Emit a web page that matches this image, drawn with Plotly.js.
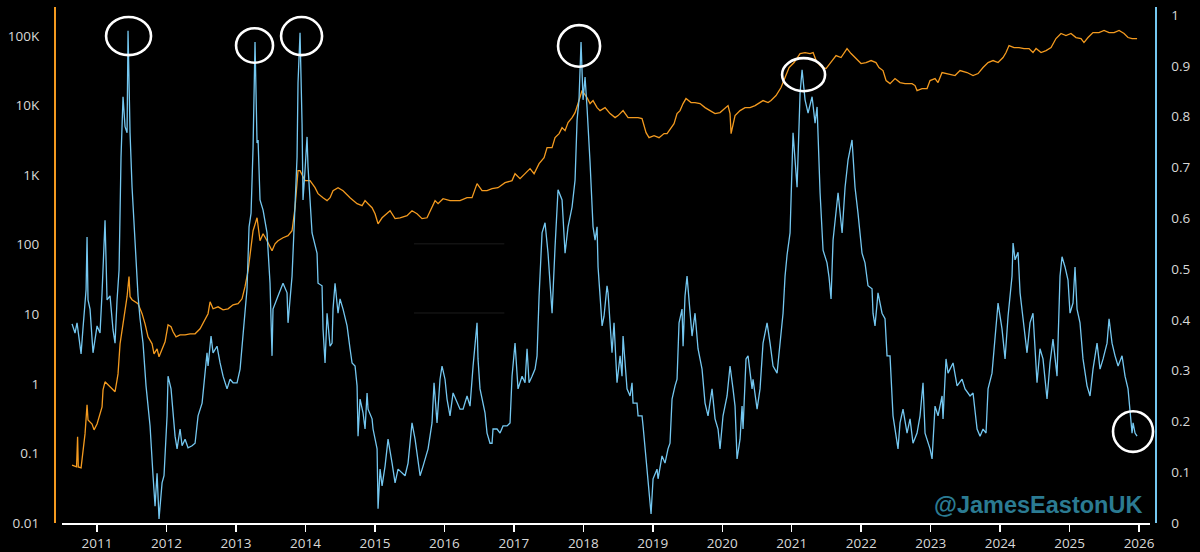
<!DOCTYPE html>
<html>
<head>
<meta charset="utf-8">
<script src="https://cdn.plot.ly/plotly-3.0.1.min.js"></script>
<style>
html,body{margin:0;padding:0;background:#000;}
#chart{width:1200px;height:552px;}
</style>
</head>
<body>
<div id="chart"></div>
<script>
// Oscillator (right axis, 0..1) — decimal years and values
const blueYears = [2010.640,2010.683,2010.712,2010.770,2010.798,2010.842,2010.856,2010.870,2010.899,2010.942,2011.000,2011.043,2011.072,2011.115,2011.144,2011.187,2011.230,2011.259,2011.288,2011.317,2011.345,2011.374,2011.403,2011.432,2011.446,2011.475,2011.504,2011.547,2011.576,2011.590,2011.619,2011.662,2011.705,2011.763,2011.806,2011.835,2011.864,2011.892,2011.936,2011.964,2012.008,2012.022,2012.065,2012.094,2012.123,2012.152,2012.195,2012.224,2012.267,2012.310,2012.368,2012.411,2012.454,2012.512,2012.555,2012.583,2012.598,2012.641,2012.670,2012.727,2012.771,2012.814,2012.871,2012.915,2012.958,2013.015,2013.059,2013.102,2013.159,2013.188,2013.217,2013.246,2013.274,2013.303,2013.318,2013.346,2013.390,2013.447,2013.462,2013.490,2013.519,2013.533,2013.605,2013.677,2013.735,2013.749,2013.807,2013.850,2013.879,2013.893,2013.922,2013.951,2013.965,2013.994,2014.023,2014.037,2014.095,2014.167,2014.181,2014.239,2014.253,2014.282,2014.311,2014.354,2014.383,2014.397,2014.426,2014.469,2014.498,2014.541,2014.599,2014.642,2014.671,2014.714,2014.743,2014.757,2014.786,2014.829,2014.858,2014.887,2014.901,2014.959,2014.973,2015.031,2015.045,2015.074,2015.103,2015.146,2015.189,2015.247,2015.290,2015.333,2015.390,2015.434,2015.477,2015.534,2015.578,2015.606,2015.650,2015.693,2015.765,2015.822,2015.851,2015.894,2015.937,2015.966,2016.009,2016.038,2016.081,2016.125,2016.182,2016.225,2016.269,2016.326,2016.369,2016.398,2016.413,2016.470,2016.484,2016.513,2016.556,2016.585,2016.614,2016.657,2016.686,2016.700,2016.758,2016.801,2016.844,2016.902,2016.945,2016.974,2017.017,2017.060,2017.118,2017.161,2017.190,2017.219,2017.262,2017.305,2017.334,2017.363,2017.406,2017.449,2017.492,2017.550,2017.593,2017.636,2017.694,2017.737,2017.780,2017.838,2017.881,2017.910,2017.938,2017.967,2017.996,2018.025,2018.053,2018.068,2018.097,2018.140,2018.169,2018.198,2018.212,2018.241,2018.270,2018.298,2018.341,2018.356,2018.413,2018.442,2018.485,2018.529,2018.557,2018.572,2018.629,2018.673,2018.701,2018.716,2018.773,2018.788,2018.845,2018.860,2018.917,2018.960,2018.975,2019.004,2019.061,2019.076,2019.133,2019.176,2019.219,2019.248,2019.277,2019.320,2019.349,2019.378,2019.421,2019.436,2019.464,2019.493,2019.507,2019.565,2019.608,2019.651,2019.709,2019.752,2019.795,2019.853,2019.896,2019.939,2019.968,2020.011,2020.069,2020.112,2020.155,2020.184,2020.213,2020.256,2020.285,2020.299,2020.342,2020.371,2020.429,2020.443,2020.501,2020.544,2020.587,2020.645,2020.688,2020.731,2020.789,2020.832,2020.875,2020.904,2020.933,2020.976,2021.019,2021.077,2021.120,2021.149,2021.192,2021.235,2021.293,2021.336,2021.365,2021.408,2021.451,2021.508,2021.537,2021.566,2021.595,2021.667,2021.725,2021.768,2021.811,2021.868,2021.911,2021.954,2022.012,2022.055,2022.084,2022.098,2022.156,2022.170,2022.199,2022.242,2022.300,2022.343,2022.372,2022.415,2022.458,2022.516,2022.530,2022.559,2022.602,2022.660,2022.703,2022.746,2022.804,2022.847,2022.890,2022.919,2022.991,2023.020,2023.063,2023.106,2023.164,2023.178,2023.221,2023.250,2023.322,2023.380,2023.452,2023.495,2023.567,2023.610,2023.668,2023.711,2023.754,2023.797,2023.826,2023.883,2023.927,2023.970,2024.027,2024.071,2024.114,2024.171,2024.186,2024.215,2024.258,2024.287,2024.330,2024.387,2024.430,2024.473,2024.531,2024.574,2024.617,2024.675,2024.718,2024.761,2024.819,2024.862,2024.891,2024.934,2024.977,2025.006,2025.049,2025.078,2025.107,2025.150,2025.193,2025.251,2025.294,2025.337,2025.395,2025.438,2025.482,2025.539,2025.568,2025.611,2025.654,2025.698,2025.755,2025.798,2025.841,2025.870,2025.899,2025.914,2025.942,2025.971];
const blueValues = [0.392,0.374,0.394,0.333,0.384,0.459,0.563,0.439,0.421,0.335,0.388,0.374,0.453,0.596,0.439,0.447,0.380,0.354,0.439,0.498,0.720,0.839,0.780,0.768,0.969,0.768,0.661,0.551,0.504,0.447,0.402,0.354,0.270,0.191,0.093,0.033,0.098,0.008,0.079,0.093,0.211,0.289,0.264,0.217,0.171,0.146,0.185,0.152,0.165,0.148,0.152,0.157,0.211,0.236,0.289,0.335,0.309,0.368,0.335,0.348,0.315,0.289,0.264,0.283,0.276,0.276,0.303,0.368,0.461,0.583,0.610,0.740,0.947,0.748,0.754,0.636,0.616,0.571,0.531,0.472,0.329,0.421,0.447,0.472,0.453,0.394,0.486,0.636,0.720,0.866,0.965,0.787,0.636,0.695,0.760,0.701,0.571,0.531,0.472,0.467,0.382,0.315,0.413,0.348,0.354,0.421,0.472,0.413,0.441,0.421,0.388,0.343,0.315,0.309,0.270,0.171,0.244,0.217,0.185,0.256,0.224,0.205,0.185,0.146,0.028,0.106,0.073,0.112,0.165,0.118,0.079,0.106,0.098,0.093,0.118,0.197,0.165,0.138,0.093,0.112,0.146,0.197,0.276,0.197,0.283,0.309,0.283,0.244,0.211,0.256,0.236,0.224,0.224,0.250,0.230,0.295,0.309,0.394,0.323,0.264,0.236,0.217,0.177,0.157,0.157,0.185,0.185,0.177,0.191,0.191,0.197,0.289,0.354,0.264,0.289,0.276,0.343,0.276,0.289,0.303,0.329,0.447,0.571,0.591,0.531,0.413,0.543,0.656,0.636,0.531,0.583,0.622,0.675,0.793,0.833,0.947,0.833,0.878,0.819,0.787,0.709,0.583,0.557,0.583,0.504,0.447,0.388,0.407,0.467,0.453,0.335,0.394,0.276,0.329,0.289,0.368,0.264,0.250,0.276,0.236,0.236,0.211,0.211,0.191,0.106,0.033,0.018,0.087,0.106,0.087,0.132,0.118,0.146,0.157,0.244,0.270,0.283,0.394,0.421,0.348,0.447,0.486,0.461,0.368,0.413,0.343,0.303,0.236,0.211,0.264,0.205,0.185,0.146,0.211,0.250,0.309,0.264,0.230,0.126,0.165,0.230,0.185,0.323,0.329,0.264,0.283,0.224,0.264,0.354,0.394,0.354,0.309,0.295,0.348,0.413,0.486,0.528,0.571,0.768,0.661,0.846,0.892,0.833,0.807,0.839,0.787,0.819,0.650,0.537,0.512,0.484,0.441,0.557,0.650,0.571,0.661,0.715,0.754,0.661,0.610,0.531,0.512,0.484,0.467,0.461,0.413,0.388,0.453,0.413,0.402,0.329,0.329,0.211,0.165,0.146,0.197,0.224,0.177,0.205,0.157,0.177,0.211,0.276,0.177,0.146,0.126,0.230,0.211,0.250,0.205,0.323,0.295,0.315,0.270,0.283,0.264,0.250,0.256,0.185,0.171,0.185,0.177,0.264,0.295,0.368,0.433,0.382,0.323,0.407,0.486,0.551,0.518,0.533,0.453,0.402,0.335,0.394,0.413,0.276,0.343,0.323,0.244,0.315,0.362,0.289,0.486,0.524,0.504,0.478,0.413,0.433,0.504,0.421,0.394,0.323,0.270,0.250,0.303,0.354,0.303,0.323,0.354,0.402,0.354,0.329,0.309,0.329,0.289,0.264,0.224,0.177,0.197,0.177,0.171];

// Price (left axis, log)
const priceYears = [2010.640,2010.705,2010.720,2010.730,2010.770,2010.798,2010.827,2010.856,2010.870,2010.928,2010.957,2011.000,2011.043,2011.072,2011.086,2011.115,2011.158,2011.216,2011.259,2011.288,2011.302,2011.331,2011.374,2011.403,2011.432,2011.460,2011.475,2011.504,2011.547,2011.590,2011.648,2011.691,2011.734,2011.792,2011.820,2011.864,2011.892,2011.936,2011.979,2012.022,2012.065,2012.094,2012.137,2012.195,2012.267,2012.339,2012.411,2012.483,2012.555,2012.598,2012.627,2012.670,2012.742,2012.814,2012.886,2012.958,2013.030,2013.087,2013.130,2013.159,2013.174,2013.246,2013.303,2013.346,2013.390,2013.447,2013.519,2013.562,2013.605,2013.677,2013.749,2013.807,2013.850,2013.893,2013.922,2013.994,2014.066,2014.138,2014.181,2014.253,2014.311,2014.354,2014.397,2014.469,2014.541,2014.642,2014.743,2014.815,2014.858,2014.901,2014.959,2015.002,2015.045,2015.103,2015.175,2015.218,2015.290,2015.362,2015.462,2015.534,2015.606,2015.678,2015.750,2015.822,2015.866,2015.909,2015.981,2016.081,2016.153,2016.225,2016.326,2016.398,2016.470,2016.542,2016.614,2016.686,2016.772,2016.873,2016.974,2017.017,2017.089,2017.161,2017.233,2017.291,2017.363,2017.435,2017.478,2017.550,2017.593,2017.651,2017.694,2017.737,2017.780,2017.838,2017.881,2017.924,2017.982,2018.053,2018.097,2018.140,2018.198,2018.241,2018.313,2018.385,2018.457,2018.500,2018.572,2018.644,2018.716,2018.788,2018.845,2018.903,2018.946,2019.018,2019.090,2019.162,2019.205,2019.263,2019.306,2019.349,2019.392,2019.436,2019.478,2019.551,2019.608,2019.680,2019.752,2019.824,2019.896,2019.968,2020.040,2020.083,2020.112,2020.127,2020.184,2020.256,2020.328,2020.400,2020.472,2020.515,2020.587,2020.659,2020.702,2020.774,2020.846,2020.904,2020.962,2021.034,2021.077,2021.120,2021.192,2021.264,2021.308,2021.351,2021.408,2021.451,2021.494,2021.566,2021.638,2021.710,2021.768,2021.796,2021.854,2021.926,2021.998,2022.070,2022.142,2022.213,2022.256,2022.314,2022.358,2022.415,2022.487,2022.559,2022.631,2022.732,2022.775,2022.804,2022.876,2022.948,2022.991,2023.063,2023.106,2023.164,2023.250,2023.351,2023.423,2023.524,2023.610,2023.682,2023.754,2023.826,2023.898,2023.970,2024.042,2024.085,2024.128,2024.200,2024.272,2024.344,2024.416,2024.473,2024.517,2024.589,2024.661,2024.733,2024.804,2024.876,2024.948,2025.020,2025.092,2025.164,2025.207,2025.265,2025.337,2025.423,2025.496,2025.568,2025.640,2025.712,2025.784,2025.841,2025.899,2025.971];
const priceValues = [0.068,0.064,0.173,0.064,0.062,0.112,0.191,0.499,0.303,0.265,0.218,0.265,0.370,0.467,0.820,1.07,0.97,0.85,0.77,1.14,1.39,3.76,7.3,11.6,17.9,35,17.9,16.2,15.1,14.2,10.2,7.3,4.74,3.76,2.70,3.19,2.45,3.08,4.02,7.06,6.61,5.60,4.74,5.07,5.07,5.24,5.24,6.18,8.61,10.2,15.1,12.0,12.8,11.6,12.0,13.7,14.2,16.7,24.9,34.7,42.3,159,244,114,144,114,82,103,114,126,135,159,340,1161,1161,834,834,661,542,474,430,474,598,661,598,474,389,364,430,389,340,279,200,244,279,308,237,244,261,308,279,237,244,340,430,389,459,430,430,430,474,474,755,598,598,640,661,780,834,1050,891,1050,1240,1050,1463,1786,2489,2489,3461,3955,4822,4365,5690,6714,7925,10690,16440,13030,10690,11800,9355,8470,9355,7670,6714,7180,8470,6714,6714,6714,6500,4085,3461,3700,3461,3955,3955,4822,5510,7670,8470,10690,12620,11040,11040,10690,9355,8470,7670,7925,9355,10000,7670,3955,7180,8470,9355,9355,10000,10690,11800,11040,11800,13930,18150,25290,35240,41500,49000,55980,57810,55980,57810,44360,37580,35240,34060,41500,52360,49000,61800,66070,55980,47430,40180,41500,44360,41500,35240,31870,22910,20700,24430,21430,20700,20700,19400,16440,17540,17540,22910,24430,21430,29850,28840,27040,31870,29850,27040,28840,35240,41500,44360,41500,49000,57810,72950,68230,68230,66070,66070,57810,66070,57810,61800,68230,92000,108600,101600,108600,95100,92000,80540,95100,112200,112200,120000,112200,112200,120000,108600,95100,92000,92000];

const xTickVals = [2011,2012,2013,2014,2015,2016,2017,2018,2019,2020,2021,2022,2023,2024,2025,2026];
const xTickText = ['2011','2012','2013','2014','2015','2016','2017','2018','2019','2020','2021','2022','2023','2024','2025','2026'];
const leftTickVals = [0.01,0.1,1,10,100,1000,10000,100000];
const leftTickText = ['0.01','0.1','1','10','100','1K','10K','100K'];
const rightTickVals = [0,0.1,0.2,0.3,0.4,0.5,0.6,0.7,0.8,0.9,1];
const rightTickText = ['0','0.1','0.2','0.3','0.4','0.5','0.6','0.7','0.8','0.9','1'];

// Highlighted peaks (circled): [x0, x1, y0, y1] in year / oscillator units
const peakCircles = [
  [2011.130,2011.777,0.921,0.996],
  [2013.001,2013.533,0.906,0.974],
  [2013.649,2014.239,0.921,0.996],
  [2017.636,2018.241,0.898,0.980],
  [2020.861,2021.480,0.850,0.915],
  [2025.625,2026.201,0.140,0.220]
];

const BLUE = '#74c7f0';
const ORANGE = '#f39a1f';
const tickFont = {family:'"Open Sans", "DejaVu Sans", sans-serif', size:13.5, color:'#d8d8d8'};

const X_RANGE = [2010.496, 2026.158];
const X_DOMAIN = [0.0073, 0.9955];
const Y2_RANGE = [0, 1.0157];

// map axis units to paper fractions so circles are not clipped at plot edge
const toPaperX = v => X_DOMAIN[0] + (v - X_RANGE[0]) / (X_RANGE[1] - X_RANGE[0]) * (X_DOMAIN[1] - X_DOMAIN[0]);
const toPaperY2 = v => (v - Y2_RANGE[0]) / (Y2_RANGE[1] - Y2_RANGE[0]);

const traces = [
  {x: priceYears, y: priceValues, type:'scatter', mode:'lines', yaxis:'y',
   line:{color:ORANGE, width:1.3}, hoverinfo:'skip'},
  {x: blueYears, y: blueValues, type:'scatter', mode:'lines', yaxis:'y2',
   line:{color:BLUE, width:1.3}, hoverinfo:'skip'}
];

const shapes = peakCircles.map(c => ({
  type:'circle', xref:'paper', yref:'paper',
  x0:toPaperX(c[0]), x1:toPaperX(c[1]), y0:toPaperY2(c[2]), y1:toPaperY2(c[3]),
  line:{color:'#ffffff', width:2.6}
}));
shapes.push({type:'line', xref:'paper', yref:'paper', x0:0.327, x1:0.409, y0:0.541, y1:0.541, line:{color:'#1c1c1c', width:1}});
shapes.push({type:'line', xref:'paper', yref:'paper', x0:0.327, x1:0.409, y0:0.407, y1:0.407, line:{color:'#1c1c1c', width:1}});

const layout = {
  width:1200, height:552,
  paper_bgcolor:'#000', plot_bgcolor:'#000',
  margin:{l:54, r:45, t:7, b:29},
  showlegend:false,
  xaxis:{
    domain:X_DOMAIN, range:X_RANGE,
    tickvals:xTickVals, ticktext:xTickText,
    showgrid:false, zeroline:false,
    showline:true, linecolor:'#ffffff', linewidth:1.5,
    ticks:'outside', ticklen:7, tickwidth:1.5, tickcolor:'#ffffff',
    tickfont:tickFont, fixedrange:true
  },
  yaxis:{
    type:'log', range:[-2, 5.417],
    anchor:'free', position:0,
    tickvals:leftTickVals, ticktext:leftTickText,
    showgrid:false, zeroline:false,
    showline:true, linecolor:ORANGE, linewidth:1.5,
    ticks:'', ticklabelstandoff:12,
    tickfont:tickFont, fixedrange:true
  },
  yaxis2:{
    overlaying:'y', side:'right', anchor:'free', position:1,
    range:Y2_RANGE,
    tickvals:rightTickVals, ticktext:rightTickText,
    showgrid:false, zeroline:false,
    showline:true, linecolor:BLUE, linewidth:1.5,
    ticks:'', ticklabelstandoff:12,
    tickfont:tickFont, fixedrange:true
  },
  shapes: shapes,
  annotations:[{
    text:'@JamesEastonUK', xref:'paper', yref:'paper', x:0.990, y:0.005,
    xanchor:'right', yanchor:'bottom', showarrow:false,
    font:{family:'"Liberation Sans", Arial, sans-serif', size:23.5, color:'#2b7b92', weight:700}
  }]
};

Plotly.newPlot('chart', traces, layout, {displayModeBar:false, staticPlot:true});
</script>
</body>
</html>
